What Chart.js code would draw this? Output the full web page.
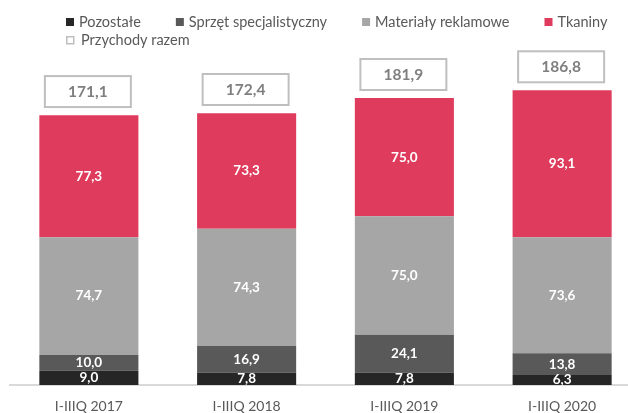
<!DOCTYPE html>
<html lang="pl">
<head>
<meta charset="utf-8">
<title>Przychody</title>
<style>
body { margin: 0; overflow: hidden; background: #fff; }
</style>
</head>
<body>
<div style="position: relative; width: 645px; height: 413px">
<canvas id="canvas"></canvas>
</div>
<script src="https://cdn.jsdelivr.net/npm/chart.js"></script>
<script>

let LABELS = ["I-IIIQ 2017", "I-IIIQ 2018", "I-IIIQ 2019", "I-IIIQ 2020"]
let POZOSTALE = [9.0, 7.8, 7.8, 6.3]
let SPRZET = [10.0, 16.9, 24.1, 13.8]
let MATERIALY = [74.7, 74.3, 75.0, 73.6]
let TKANINY = [77.3, 73.3, 75.0, 93.1]
let RAZEM = [171.1, 172.4, 181.9, 186.8]

let FONT = "Lato"

let fmt = v => v.toFixed(1).replace(".", ",")

let segLabels = {
    id: "segLabels",
    afterDatasetsDraw(chart) {
        let c = chart.ctx
        c.save()
        c.textAlign = "center"
        c.textBaseline = "middle"
        c.fillStyle = "#fff"
        c.font = "bold 13.5px " + FONT
        chart.data.datasets.forEach((ds, i) => {
            chart.getDatasetMeta(i).data.forEach((bar, j) => {
                c.fillText(fmt(ds.data[j]), bar.x, (bar.y + bar.base) / 2)
            })
        })
        // totals in boxes
        let y = chart.scales.y
        let meta = chart.getDatasetMeta(0)
        c.font = "bold 15.5px " + FONT
        c.strokeStyle = "#bfbfbf"
        c.lineWidth = 2
        RAZEM.forEach((v, j) => {
            let x = meta.data[j].x - 1
            let bottom = y.getPixelForValue(v) - 8
            c.fillStyle = "#fff"
            c.fillRect(x - 43, bottom - 31, 86, 31)
            c.strokeRect(x - 43, bottom - 31, 86, 31)
            c.fillStyle = "#7f7f7f"
            c.fillText(fmt(v), x, bottom - 15)
        })
        c.restore()
    }
}

let legend = {
    id: "legend2",
    afterDraw(chart) {
        let c = chart.ctx
        c.save()
        c.font = "14.5px " + FONT
        c.textBaseline = "middle"
        let x = 66
        chart.data.datasets.forEach(ds => {
            c.fillStyle = ds.backgroundColor
            c.fillRect(x, 18, 8, 8)
            c.fillStyle = "#595959"
            c.fillText(ds.label, x + 13, 22)
            x += 13 + c.measureText(ds.label).width + 35
        })
        c.strokeStyle = "#bfbfbf"
        c.lineWidth = 1.5
        c.strokeRect(66.75, 36.75, 7, 7)
        c.fillText("Przychody razem", 81, 40)
        c.restore()
    }
}

new Chart(document.getElementById("canvas"), {
    type: "bar",
    data: {
        labels: LABELS,
        datasets: [
            { label: "Pozostałe", data: POZOSTALE, backgroundColor: "#262626" },
            { label: "Sprzęt specjalistyczny", data: SPRZET, backgroundColor: "#595959" },
            { label: "Materiały reklamowe", data: MATERIALY, backgroundColor: "#a6a6a6" },
            { label: "Tkaniny", data: TKANINY, backgroundColor: "#df3b5c" },
        ]
    },
    options: {
        responsive: true,
        maintainAspectRatio: false,
        animation: false,
        layout: { padding: { top: 60, left: 10, right: 4 } },
        datasets: { bar: { categoryPercentage: 1, barPercentage: 0.628 } },
        plugins: { legend: { display: false }, tooltip: { enabled: false } },
        scales: {
            x: {
                stacked: true,
                grid: { display: false },
                border: { color: "#d9d9d9", width: 2 },
                ticks: { color: "#595959", font: { family: FONT, size: 14 }, padding: 5 },
                afterFit: s => { s.height = 28 },
            },
            y: { stacked: true, display: false, min: 0, max: 206 },
        },
    },
    plugins: [segLabels, legend],
})

</script>
</body>
</html>
